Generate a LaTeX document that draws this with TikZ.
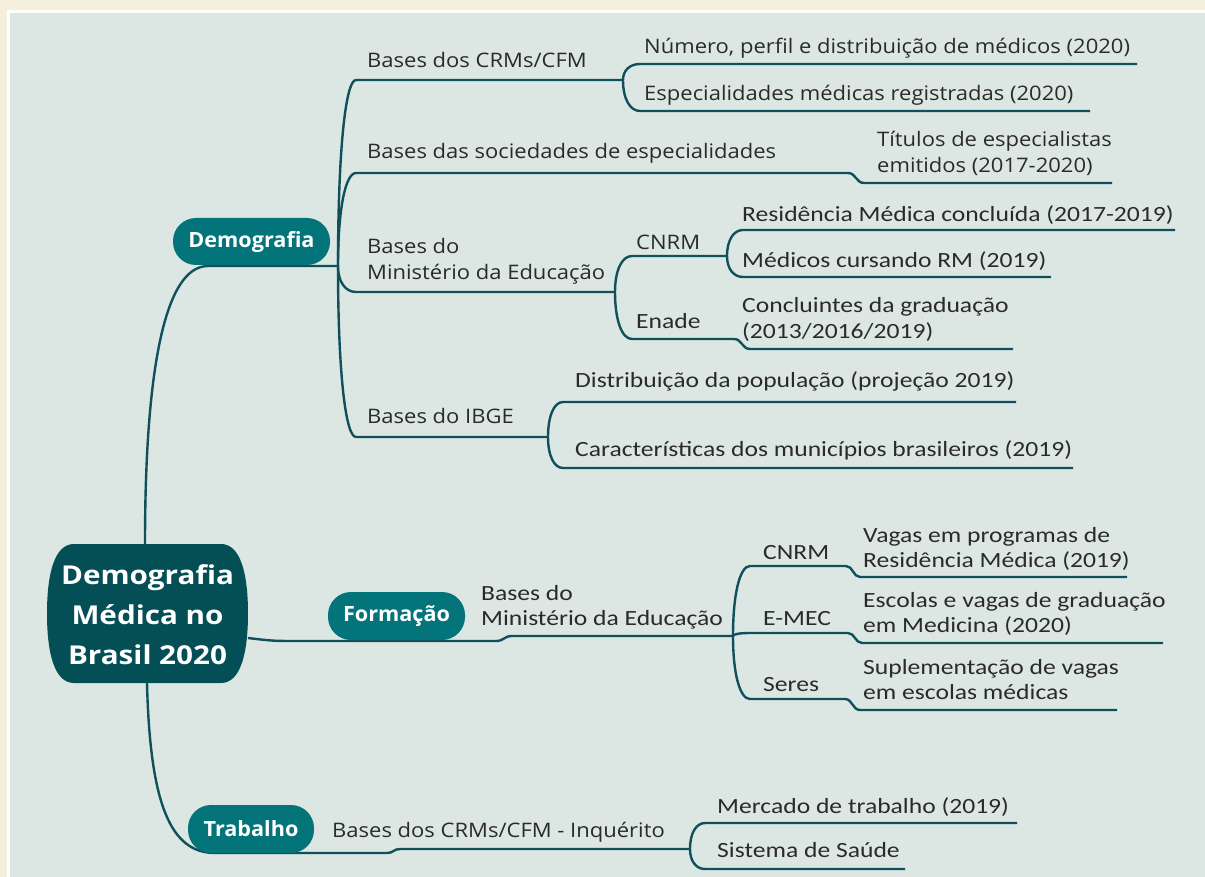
\documentclass[tikz,border=0pt]{standalone}
\usepackage{fontspec}
\usetikzlibrary{calc}
\newfontfamily\osans[FakeStretch=1.10]{Open Sans}
\newfontfamily\calib[FakeStretch=1.18]{Carlito}
\newfontfamily\pillfont[FakeStretch=1.03]{Open Sans}
\newfontfamily\centfont[FakeStretch=1.14]{Open Sans}
\definecolor{cream}{HTML}{F4EEDC}
\definecolor{panel}{HTML}{DCE7E4}
\definecolor{cenc}{HTML}{044E55}
\definecolor{pillc}{HTML}{04747B}
\definecolor{lnc}{HTML}{0F505A}
\definecolor{txc}{HTML}{2A2A2A}
\newcommand{\twol}[2]{\begin{tabular}[t]{@{}l@{}}#1\\#2\end{tabular}}
% branch: vertical departure from #1, horizontal arrival at #2, then line to #3
\newcommand{\bra}[3]{\draw[ln] (#1) .. controls ($(#1)!0.6!(#1|-#2)$) and ($(#1|-#2)!0.4!(#2)$) .. (#2) -- (#3);}
% branch with step: #1 -> #2 -- #3 ~step~ #4 -- #5
\newcommand{\brs}[5]{\draw[ln] (#1) .. controls ($(#1)!0.6!(#1|-#2)$) and ($(#1|-#2)!0.4!(#2)$) .. (#2) -- (#3) .. controls ($(#3)!0.5!(#3-|#4)$) and ($(#4)!0.5!(#3|-#4)$) .. (#4) -- (#5);}
\begin{document}
\begin{tikzpicture}[x=1pt,y=-1pt,
  ln/.style={draw=lnc, line width=2.4pt},
  ta/.style={inner sep=0pt, anchor=base west, text=txc, font=\osans\fontsize{20}{26}\selectfont},
  tb/.style={inner sep=0pt, anchor=base west, text=txc, font=\calib\fontsize{21.7}{25.5}\selectfont},
  pill/.style={fill=pillc, rounded corners=23pt, inner sep=0pt, text=white, font=\pillfont\bfseries\fontsize{21}{24}\selectfont}]
% background
\fill[cream] (0,0) rectangle (1205,877);
\fill[white] (7,10) rectangle (1205,877);
\fill[panel] (10,13) rectangle (1205,877);
\useasboundingbox (0,0) rectangle (1205,877);

% central barrel shape
\fill[cenc] (74,544) -- (221,544) .. controls (240,544) and (248,572) .. (248,613.5) .. controls (248,655) and (240,683) .. (221,683) -- (74,683) .. controls (55,683) and (47,655) .. (47,613.5) .. controls (47,572) and (55,544) .. (74,544) -- cycle;
\node[inner sep=0pt, minimum width=201pt, minimum height=139pt, text=white, align=center,
  font=\centfont\bfseries\fontsize{26}{40}\selectfont] (cen) at (147.5,615) {Demografia\\Médica no\\Brasil 2020};

% coordinates
\coordinate (cTop) at (145,544);
\coordinate (dL) at (208,266); \coordinate (dR) at (338,266);
\coordinate (crmL) at (356,80);  \coordinate (crmR) at (623,80);
\coordinate (socL) at (356,173); \coordinate (socR) at (848,173);
\coordinate (titL) at (864,183); \coordinate (titR) at (1112,183);
\coordinate (mecL) at (356,292); \coordinate (mecR) at (615,292);
\coordinate (ibgL) at (356,437); \coordinate (ibgR) at (548,437);
\coordinate (numL) at (640,64);  \coordinate (numR) at (1137,64);
\coordinate (espL) at (640,111); \coordinate (espR) at (1090,111);
\coordinate (cnrL) at (632,256); \coordinate (cnrR) at (727,256);
\coordinate (enaL) at (632,339); \coordinate (enaR) at (734,339);
\coordinate (conL) at (750,349); \coordinate (conR) at (1013,349);
\coordinate (resL) at (743,230); \coordinate (resR) at (1175,230);
\coordinate (medL) at (743,277); \coordinate (medR) at (1051,277);
\coordinate (disL) at (563,402); \coordinate (disR) at (1016,402);
\coordinate (carL) at (563,468); \coordinate (carR) at (1073,468);
\coordinate (fA) at (248,638); \coordinate (fB) at (300,641); \coordinate (fC) at (496,641);
\coordinate (fD) at (512,636); \coordinate (fE) at (733,636);
\coordinate (fcnL) at (750,566); \coordinate (fcnR) at (846,566);
\coordinate (vagL) at (860,577); \coordinate (vagR) at (1127,577);
\coordinate (femL) at (750,633); \coordinate (femR) at (848,633);
\coordinate (escL) at (862,643); \coordinate (escR) at (1163,643);
\coordinate (fseL) at (750,699); \coordinate (fseR) at (845,699);
\coordinate (supL) at (860,710); \coordinate (supR) at (1117,710);
\coordinate (cBot) at (147,683);
\coordinate (tA) at (215,853); \coordinate (tB) at (387,853); \coordinate (tC) at (400,849); \coordinate (tD) at (690,849);
\coordinate (merL) at (705,823); \coordinate (merR) at (1017,823);
\coordinate (sisL) at (705,869); \coordinate (sisR) at (905,869);

% connectors: Demografia
\draw[ln] (cTop) .. controls ($(cTop)+(0,-180)$) and ($(dL)+(-42,0)$) .. (dL) -- (dR);
\bra{dR}{crmL}{crmR}
\brs{dR}{socL}{socR}{titL}{titR}
\bra{dR}{mecL}{mecR}
\bra{dR}{ibgL}{ibgR}
\bra{crmR}{numL}{numR}
\bra{crmR}{espL}{espR}
\bra{mecR}{cnrL}{cnrR}
\brs{mecR}{enaL}{enaR}{conL}{conR}
\bra{cnrR}{resL}{resR}
\bra{cnrR}{medL}{medR}
\bra{ibgR}{disL}{disR}
\bra{ibgR}{carL}{carR}
% connectors: Formacao
\draw[ln] (fA) .. controls ($(fA)+(25,3)$) .. (fB) -- (fC) .. controls ($(fC)!0.5!(fC-|fD)$) and ($(fD)!0.5!(fC|-fD)$) .. (fD) -- (fE);
\brs{fE}{fcnL}{fcnR}{vagL}{vagR}
\brs{fE}{femL}{femR}{escL}{escR}
\brs{fE}{fseL}{fseR}{supL}{supR}
% connectors: Trabalho
\draw[ln] (cBot) .. controls ($(cBot)+(3,120)$) and ($(tA)+(-45,0)$) .. (tA) -- (tB) .. controls ($(tB)!0.5!(tB-|tC)$) and ($(tC)!0.5!(tB|-tC)$) .. (tC) -- (tD);
\bra{tD}{merL}{merR}
\bra{tD}{sisL}{sisR}

% pills
\node[pill, minimum width=157pt, minimum height=47pt] (demog) at (251.5,241.5) {Demografia};
\node[pill, minimum width=137pt, minimum height=48pt] (form) at (396.5,616) {Formação};
\node[pill, minimum width=126pt, minimum height=48pt] (trab) at (251,829) {Trabalho};

% texts
\node[ta] (t1) at (367,68) {Bases dos CRMs/CFM};
\node[ta] (t2) at (644,54) {Número, perfil e distribuição de médicos (2020)};
\node[ta] (t3) at (644,101) {Especialidades médicas registradas (2020)};
\node[ta] (t4) at (367,159) {Bases das sociedades de especialidades};
\node[ta] (t5) at (877,147) {\twol{Títulos de especialistas}{emitidos (2017-2020)}};
\node[ta] (t6) at (367,254) {\twol{Bases do}{Ministério da Educação}};
\node[ta] (t7) at (636,250) {CNRM};
\node[tb] (t8) at (742,222) {Residência Médica concluída (2017-2019)};
\node[tb] (t9) at (742,268) {Médicos cursando RM (2019)};
\node[tb] (t10) at (636,329) {Enade};
\node[tb] (t11) at (742,313) {\twol{Concluintes da graduação}{(2013/2016/2019)}};
\node[ta] (t12) at (367,423) {Bases do IBGE};
\node[tb] (t13) at (575,388) {Distribuição da população (projeção 2019)};
\node[tb] (t14) at (575,456) {Características dos municípios brasileiros (2019)};
\node[tb] (t15) at (481,600) {\twol{Bases do}{Ministério da Educação}};
\node[tb] (t16) at (763,559) {CNRM};
\node[tb] (t17) at (863,542) {\twol{Vagas em programas de}{Residência Médica (2019)}};
\node[tb] (t18) at (763,625) {E-MEC};
\node[tb] (t19) at (863,607) {\twol{Escolas e vagas de graduação}{em Medicina (2020)}};
\node[tb] (t20) at (763,691) {Seres};
\node[tb] (t21) at (863,674) {\twol{Suplementação de vagas}{em escolas médicas}};
\node[ta] (t22) at (332,837) {Bases dos CRMs/CFM - Inquérito};
\node[tb] (t23) at (717,813) {Mercado de trabalho (2019)};
\node[tb] (t24) at (717,857) {Sistema de Saúde};
\end{tikzpicture}
\end{document}
